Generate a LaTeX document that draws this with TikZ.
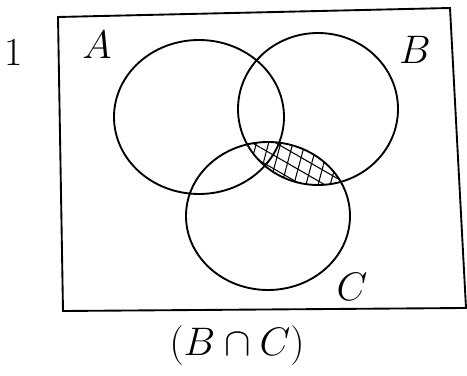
\RequirePackage{fix-cm}
\documentclass[tikz,border=0pt]{standalone}
\usepackage{amsmath,amssymb}
\usetikzlibrary{patterns.meta}

\begin{document}
\begin{tikzpicture}[x=0.03cm,y=-0.03cm,cap=round,line width=1.6pt,font=\fontsize{34}{38}\selectfont]
\useasboundingbox (0,0) rectangle (467,376);
% frame corners and circle centres
\coordinate (TL) at (58,17);
\coordinate (TR) at (450,8);
\coordinate (BR) at (466,308);
\coordinate (BL) at (63,311);
\coordinate (A) at (199,117);
\coordinate (B) at (318,109);
\coordinate (C) at (268,216);
% hatched B cap C
\begin{scope}
\clip (B) ellipse [x radius=80, y radius=76];
\fill[pattern={Lines[angle=-30,distance=10pt,line width=0.9pt]}] (C) ellipse [x radius=82, y radius=74];
\fill[pattern={Lines[angle=75,distance=10pt,line width=0.9pt]}] (C) ellipse [x radius=82, y radius=74];
\end{scope}
\draw (TL) -- (TR) -- (BR) -- (BL) -- cycle;
\draw (A) ellipse [x radius=85, y radius=77];
\draw (B) ellipse [x radius=80, y radius=76];
\draw (C) ellipse [x radius=82, y radius=74];
\node (one) at (14,52) {1};
\node (labA) at (97,45) {$A$};
\node (labB) at (415,50) {$B$};
\node (labC) at (352,287) {$C$};
\node (title) at (237,346) {$(B\cap C)$};
\end{tikzpicture}
\end{document}
